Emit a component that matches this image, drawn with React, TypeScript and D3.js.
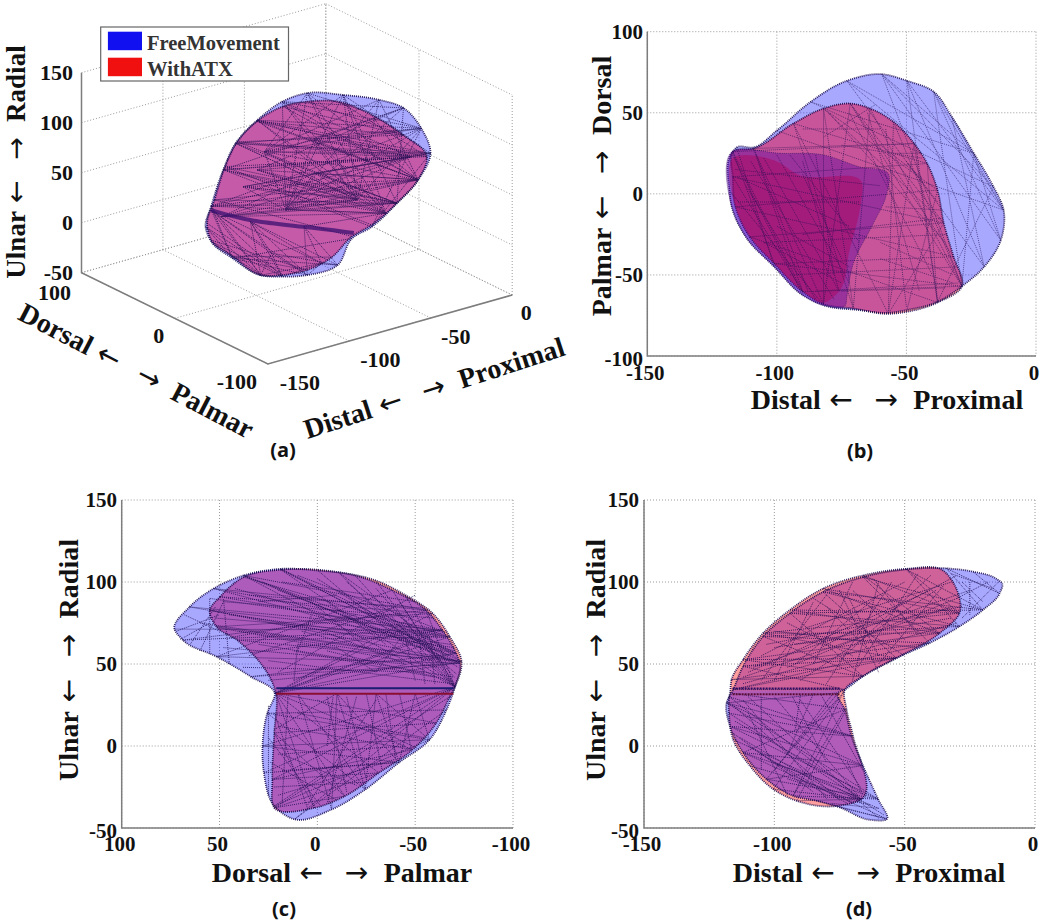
import * as d3 from "d3";

type Pt = [number, number];
type Chord = [number, number];
type Seg = [number, number, number, number];
type At = (p: Pt) => [number, number];

const SERIES = ["FreeMovement", "WithATX"];
const BLUE = "#2020ff";
const RED = "#ff1010";
const GRID = "#9a9a9a";
const AXIS = "#7d7d7d";
const DOT = "#1c0c50";
const SERIF = "'Liberation Serif', serif";

const X_TICKS = [-150, -100, -50, 0];
const Y_TICKS_B = [-100, -50, 0, 50, 100];
const Z_TICKS = [-50, 0, 50, 100, 150];
const P_TICKS = [100, 50, 0, -50, -100];
const P_TICKS_3D = [100, 0, -100];

// panel (a): points are [proximal-distal, ulnar-radial], on the plane palmar-dorsal = -20
const PLANE_Y = -20;
const blueA: Pt[] = [[-142.5,47.2],[-139,66.2],[-131.6,99.2],[-124,122.2],[-110.7,139.2],[-95.4,150.7],[-80,152.2],[-58,140.2],[-36,125.2],[-21,110.2],[-10,84.7],[-4.4,57.2],[-12,34.2],[-25,16.8],[-40.5,0.2],[-52.6,-5.8],[-61.4,-28.3],[-80,-29.8],[-95.4,-24.3],[-108.6,-16.8],[-126,8.2],[-139,30.9]];
const redA: Pt[] = [[-141.5,50.2],[-137,71.6],[-130.5,101.9],[-123,123.2],[-111,138.2],[-95,145.7],[-80,143.7],[-60,134.2],[-40.5,112.2],[-21,83.2],[-6.6,54.9],[-12,34.2],[-25,16.8],[-40.5,2.2],[-52.6,-3.8],[-65,-18.8],[-80,-24.8],[-95,-22.8],[-108.6,-16.6],[-126,10.2],[-139,32.2]];
const ridgeA: Pt[] = [[-139,62.2],[-115,39.8],[-82,19.7],[-51.5,-0.8]];
const innerA: Pt[] = [[-106.4,105.75],[-75.7,103.35],[-16.4,59.35],[-93.2,41.35],[-75.7,70.05],[-132.6,52.85],[-110.7,89.45],[-49.4,31.25],[-31.8,9.85],[-119.5,76.75],[-102,2.15],[-71.3,-22.05]];
const chordsBlueA: Chord[] = [[3,11],[3,10],[4,11],[4,10],[2,11],[5,10],[5,9],[6,10],[7,11],[8,12],[9,13],[10,14],[11,14],[1,12],[1,13],[2,13],[2,14],[3,13],[4,12],[5,12],[6,12],[7,13],[1,10],[2,9],[23,16],[23,17],[23,18],[23,19],[24,17],[0,19],[22,17],[22,18],[22,19],[22,20],[1,20],[26,27],[27,28],[26,28],[32,28],[35,28],[32,33],[32,34],[35,33],[35,34],[26,33],[27,33],[30,34],[30,28],[27,34],[29,33],[29,30],[29,27],[29,28],[29,34],[31,33],[31,29],[31,30],[35,29],[26,29],[24,34],[4,28],[5,28],[3,28],[2,33],[36,22],[36,23],[36,18],[36,19],[37,23],[37,22],[37,16],[11,35],[9,32],[8,26],[7,26],[6,26],[10,26],[10,27],[9,27],[32,12],[32,13],[35,12],[35,13],[26,12],[26,11],[27,11],[27,12],[30,11],[30,12],[30,13],[29,12],[29,13],[31,12],[31,13],[31,34],[31,28],[1,34],[1,33],[1,28],[2,34],[2,28],[3,34],[3,33],[4,33],[4,34],[5,33],[5,34],[6,33],[6,34],[7,33],[7,34],[8,33],[8,29],[9,29],[10,29],[10,33],[7,29],[6,29],[5,29],[36,16],[36,17],[37,17],[37,18],[37,19],[24,37],[24,16],[0,18],[0,20],[21,19],[1,19],[21,18],[20,17],[20,16],[20,15]];
const chordsRedA: Chord[] = [[2,10],[3,10],[3,9],[4,9],[4,10],[5,9],[6,9],[7,10],[8,11],[1,11],[1,12],[2,12],[3,12],[4,11],[5,11],[2,13],[1,14],[19,15],[19,16],[20,16],[0,17]];

// panel (b): [proximal-distal, palmar-dorsal]
const blueB: Pt[] = [[-117.4,25],[-115.5,28.6],[-109,28.6],[-100,39],[-87,56.7],[-73,69.7],[-59.5,73.8],[-49.8,69.7],[-39.5,63],[-32.5,47.5],[-24,25],[-16.4,4.3],[-12.5,-10],[-13.6,-28.6],[-20,-45],[-28.6,-57],[-38,-66.6],[-50,-71.7],[-57,-73.4],[-68,-71.7],[-82,-68.7],[-90,-62.5],[-101,-45],[-112,-26.5],[-117.4,-8],[-118.3,2]];
const redB: Pt[] = [[-117,26],[-109,28],[-93.6,43.4],[-82,52.6],[-71.7,55.7],[-64,52.6],[-55,44.4],[-47,31],[-42,18.7],[-38,2.3],[-35.6,-18],[-31.8,-38.8],[-28.6,-57],[-38,-67],[-50,-72.8],[-57,-74],[-70.5,-70.7],[-82,-68],[-90,-60.4],[-101,-43],[-110.5,-26.5],[-116,-8],[-117,10.5]];
const flapBlueB: Pt[] = [[-117.4,26],[-98.7,25],[-82,24],[-68,16.6],[-57,12.5],[-58,-2],[-62.7,-18],[-70.5,-43],[-73,-63.4],[-73.5,-68.6],[-82,-68.7],[-90,-62.5],[-101,-45],[-112,-26.5],[-117.4,-8]];
const flapRedB: Pt[] = [[-117,22],[-100,20],[-92,12],[-67,6],[-67.5,-5],[-72,-35],[-76,-60],[-82,-67],[-90,-60],[-101,-43],[-110.5,-26],[-116,-8]];
const chordsBlueB: Chord[] = [[6,13],[6,11],[7,14],[8,15],[5,10],[9,14],[10,15],[11,16],[3,12],[6,15],[7,12],[8,13],[9,12],[5,12],[4,11],[10,13],[6,10],[5,14],[7,16],[4,10],[8,12],[25,20],[0,21],[1,22]];
const chordsRedB: Chord[] = [[19,11],[20,10],[21,9],[22,8],[0,7],[1,7],[2,8],[3,9],[3,10],[4,10],[4,11],[4,12],[5,12],[6,12],[7,13],[8,13],[9,14],[10,15],[2,15],[3,16],[1,17],[0,18],[22,18],[0,19],[1,18],[3,17],[2,16],[18,12],[19,12],[20,13],[5,16],[6,15],[7,15],[4,17],[21,11],[22,10]];
const extraB: Seg[] = [[-80,50,-35,-30],[-72,50,-40,-50],[-65,50,-45,-60],[-58,40,-50,-70],[-90,40,-60,40],[-105,-30,-34,-25],[-95,-50,-30,-45],[-90,-25,-36,-15],[-85,-60,-30,-55],[-75,-60,-35,-58],[-60,-30,-32,-50],[-60,-40,-32,-55],[-58,-8,-36,-10],[-55,25,-44,25],[-75,30,-44,22],[-60,30,-44,10],[-50,20,-38,-5],[-82,35,-62,55],[-110,20,-78,-65],[-105,22,-76,-60],[-100,24,-72,-55],[-95,24,-68,-30],[-90,20,-76,-60],[-112,5,-85,-65],[-90,12,-75,-40],[-85,24,-78,-50],[-115,10,-72,-20],[-115,-5,-68,-5],[-116,15,-60,5],[-100,-20,-72,-45],[-105,-30,-75,-55],[-108,24,-88,-60]];

// panel (c): [dorsal-palmar, ulnar-radial]
const blueC: Pt[] = [[73,71.3],[65.3,84.8],[53,96],[37.7,104],[18.7,108],[-0.3,107],[-19.3,104],[-38.3,95],[-55.6,82.8],[-64,70.6],[-71,56.5],[-72.9,50.4],[-70.3,36],[-66,22],[-57.3,3.8],[-41.8,-10],[-24.5,-26.5],[-7.3,-38.7],[11.7,-44.7],[22,-36.6],[27.3,-16.4],[28,0],[25.6,20],[21.8,32.2],[34,42.3],[51.5,54.5],[68.7,64.6]];
const redC: Pt[] = [[55,82.8],[49.7,91],[37.7,103],[18.7,107.5],[-10.7,106],[-29.7,101],[-45,92],[-59,80.8],[-67.7,66.6],[-73.7,51.4],[-70.3,36],[-67.7,30],[-60.8,14],[-48.7,-2.2],[-31.4,-16.4],[-14,-30.6],[1.4,-37.7],[22,-37.7],[23,-20.4],[22,8],[21.2,32.2],[41,64.6],[51.5,72.7]];
const ridgeBlueC: Pt[] = [[21,35.2],[-69.5,35.2]];
const ridgeRedC: Pt[] = [[21,31.8],[-69.5,31.8]];
const fanC: Pt[] = [[10,32],[-10,32],[-30,32],[-50,32]];
const chordsBlueC: Chord[] = [[1,9],[1,10],[2,9],[2,10],[3,10],[3,11],[0,9],[26,8],[26,9],[25,7],[25,9],[24,10],[24,11],[23,10],[23,9],[23,8],[4,10],[5,12],[6,12],[7,12],[8,12],[4,11],[3,12],[25,11],[2,8],[3,8],[12,19],[13,18],[14,21],[22,14],[21,15],[20,15],[19,14],[12,18],[22,16],[12,20],[12,21],[22,13],[27,16],[27,17],[28,15],[28,16],[28,17],[29,15],[29,14],[29,16],[30,14],[30,15]];
const chordsRedC: Chord[] = [[0,8],[0,9],[1,7],[1,8],[2,8],[21,9],[21,8],[22,7],[22,9],[20,9],[20,8],[20,7],[3,9],[3,10],[4,9],[4,10],[5,10],[6,10],[20,12],[20,13],[20,14],[20,15],[20,16],[19,12],[18,13],[18,14],[17,14],[17,15],[19,16],[11,17],[10,18],[19,15]];
const extraC: Seg[] = [[48,88,-60,78],[45,80,-68,62],[40,70,-70,50],[52,78,-66,66],[35,92,-55,84],[30,62,-70,42],[25,52,-69,38],[18,100,-50,88],[10,104,-60,72],[45,66,-20,80],[30,88,-10,92],[-10,95,-66,60],[20,95,-68,55],[8,70,-40,55],[-3,70,-45,50],[12,58,-60,42],[-5,58,-68,40],[10,58,3,80],[12,40,10,62],[10,62,-10,60],[-10,60,-30,45],[-30,45,-42,65],[-42,65,-60,70],[-50,40,-45,66],[-55,38,-52,66],[-60,38,-58,66],[12,40,-8,50],[22,10,-10,32],[20,12,-48,-2],[20,-5,-45,0],[18,-15,-40,-10],[-5,30,-15,-28],[-15,30,-25,-20],[-25,32,-33,-14],[-35,32,-40,-8],[-42,32,-48,-2],[-5,0,-8,30],[22,-25,-25,-22],[18,-5,-20,-24],[60,75,-72,52],[55,90,-64,70],[50,72,-62,48],[42,96,-70,58],[28,100,-72,50],[25,75,-70,60],[35,55,-40,85],[20,45,-50,92],[15,35,-66,70],[0,102,-72,48],[-15,100,-71,44],[-30,96,-70,42],[-42,88,-70,38],[48,60,-45,50],[38,48,-55,45],[25,40,-62,50],[5,90,-25,60],[-5,88,-35,62],[20,-30,-40,-8],[24,-10,-10,-33],[25,5,-2,-37],[22,20,5,-38],[15,30,18,-35],[10,20,-55,5],[0,28,-52,-2],[-20,30,-5,-35],[-30,28,5,-36],[72,70,50,80],[70,65,55,75],[65,62,52,85],[60,58,48,88],[68,80,50,70],[55,56,55,90],[45,50,48,90],[25,-30,25,25]];

// panel (d): [proximal-distal, ulnar-radial]
const blueD: Pt[] = [[-118.3,26.3],[-115.8,34.4],[-112,48.6],[-104.3,66.8],[-94,81],[-81.3,94],[-66,103],[-49.4,107.7],[-34,108.3],[-23.8,106.3],[-14.9,102],[-12.6,99],[-13.6,93],[-20,83],[-29,72.9],[-40.4,62.8],[-53.2,53.6],[-66,42.5],[-73,34.4],[-75.5,32.4],[-73,22.3],[-70.4,6],[-66,-12],[-60.2,-32.4],[-56.8,-44.5],[-63.4,-45],[-75,-37.4],[-83.8,-33.4],[-92.8,-30.4],[-103,-20.2],[-112,-4],[-117,12]];
const redD: Pt[] = [[-117,32.4],[-116.4,40.5],[-112,52.6],[-104.3,68.8],[-94,83],[-81.3,96],[-66,104],[-49.4,108],[-36,107.7],[-29,81],[-36.6,68.8],[-53.2,53.6],[-66,42.5],[-73,34],[-72.3,22.3],[-69.8,6],[-66.6,-32.4],[-75,-36.4],[-91.5,-33.4],[-100.4,-26.3],[-109.4,-12],[-115.8,4],[-117.4,20],[-117.3,30]];
const ridgeBlueD: Pt[] = [[-116,35],[-75,35]];
const ridgeRedD: Pt[] = [[-116,31.5],[-75,31.5]];
const chordsBlueD: Chord[] = [[1,16],[1,15],[2,16],[2,15],[3,15],[3,14],[4,14],[4,13],[5,13],[5,14],[6,13],[7,13],[8,12],[8,13],[9,12],[7,14],[6,15],[5,16],[4,17],[3,17],[2,18],[1,18],[0,19],[0,21],[31,21],[31,22],[30,22],[30,23],[29,23],[28,23],[27,24],[26,24],[0,22],[0,23],[31,23],[30,24],[29,22],[20,28],[19,29],[20,30],[18,28]];
const chordsRedD: Chord[] = [[1,11],[2,11],[2,10],[3,10],[3,9],[4,9],[5,9],[6,9],[7,9],[4,10],[5,10],[6,10],[3,11],[2,12],[1,12],[23,15],[22,15],[22,16],[21,16],[20,16],[19,16],[18,16],[23,16],[0,14],[14,18],[13,19]];
const extraD: Seg[] = [[-110,45,-40,95],[-105,55,-50,100],[-112,42,-32,85],[-100,60,-32,78],[-95,48,-30,90],[-90,40,-38,95],[-80,38,-55,100],[-70,40,-60,100],[-100,70,-45,60],[-85,90,-50,55],[-75,95,-60,45],[-95,75,-70,55],[-65,60,-80,85],[-60,55,-72,92],[-93,30,-80,-10],[-85,32,-95,-5],[-78,31,-100,-15],[-75,30,-92,0],[-90,31,-92,10],[-110,30,-68,-32],[-100,30,-68,-30],[-115,15,-67,-28],[-113,5,-70,-35],[-105,-5,-72,-35],[-95,-20,-67,-34],[-72,-10,-66,-30],[-110,20,-95,-30],[-105,30,-105,-15],[-60,-38,-72,-30],[-112,38,-30,75],[-108,48,-25,95],[-103,62,-28,85],[-92,62,-35,72],[-88,72,-32,100],[-82,60,-30,104],[-75,52,-40,104],[-68,48,-45,105],[-60,50,-35,98],[-92,50,-60,92],[-85,50,-70,100],[-105,40,-80,92],[-100,40,-85,88],[-50,65,-70,95],[-45,68,-62,102],[-28,100,-20,88],[-32,105,-16,96],[-30,90,-18,100],[-28,78,-14,100],[-25,100,-25,80],[-116,25,-75,-33],[-112,28,-80,-32],[-116,8,-85,-28],[-110,0,-80,-30],[-100,-10,-70,-30],[-90,28,-67,-25],[-82,31,-66,-15],[-68,-32,-58,-42],[-70,-30,-60,-44],[-72,-33,-63,-36],[-78,-35,-60,-38]];

const font = { fontFamily: SERIF, fontWeight: 700, fill: "#111" } as const;

function hullPath(points: Pt[], at: At) {
  return d3.line<Pt>().x((d) => at(d)[0]).y((d) => at(d)[1]).curve(d3.curveCatmullRomClosed.alpha(1))(points) ?? "";
}

function Mesh({ points, chords, extra = [], at, opacity = 0.8 }: { points: Pt[]; chords: Chord[]; extra?: Seg[]; at: At; opacity?: number }) {
  const lines: [Pt, Pt][] = [
    ...chords.map(([a, b]) => [points[a], points[b]] as [Pt, Pt]),
    ...extra.map((s) => [[s[0], s[1]], [s[2], s[3]]] as [Pt, Pt]),
  ];
  return (
    <g stroke={DOT} strokeWidth={1} strokeDasharray="1 1" opacity={opacity}>
      {lines.map(([p, q], i) => (
        <line key={i} x1={at(p)[0]} y1={at(p)[1]} x2={at(q)[0]} y2={at(q)[1]} />
      ))}
    </g>
  );
}

// two hulls, the part that both cover painted in its own colour
function Hulls({ id, blue, red, overlap, at }: { id: string; blue: Pt[]; red: Pt[]; overlap: string; at: At }) {
  const b = hullPath(blue, at);
  const r = hullPath(red, at);
  const edge = { fill: "none", stroke: DOT, strokeWidth: 1.8, strokeDasharray: "1 1", strokeOpacity: 0.9 };
  return (
    <g>
      <clipPath id={id}>
        <path d={b} />
      </clipPath>
      <path d={b} fill={BLUE} fillOpacity={0.38} />
      <path d={r} fill={RED} fillOpacity={0.42} />
      <path d={r} fill={overlap} clipPath={`url(#${id})`} />
      <path d={b} {...edge} />
      <path d={r} {...edge} />
    </g>
  );
}

function ArrowLabel({ left, right, size = 28, ...rest }: any) {
  return (
    <text {...font} fontSize={size} textAnchor="middle" {...rest}>
      {left}
      <tspan dx={size * 0.3} fontFamily="'DejaVu Sans', sans-serif" fontWeight={400}>{"\u2190"}</tspan>
      <tspan dx={size * 0.78} fontFamily="'DejaVu Sans', sans-serif" fontWeight={400}>{"\u2192"}</tspan>
      <tspan dx={size * 0.55}>{right}</tspan>
    </text>
  );
}

function Tag({ x, y, children }: any) {
  return <text x={x} y={y} textAnchor="middle" fontFamily="'Open Sans', sans-serif" fontWeight={700} fontSize={20} fill="#111">{children}</text>;
}

function Frame({ sx, sy, xTicks, yTicks, xLabel, yLabel, tag, lx, ly, tagX, tagY, yLabelX, yLabelY, yTextX, xTextY }: any) {
  const [l, r] = sx.range();
  const [b, t] = sy.range();
  return (
    <g>
      <g stroke={GRID} strokeWidth={1} strokeDasharray="1 2">
        {xTicks.map((v: number) => <line key={v} x1={sx(v)} x2={sx(v)} y1={t} y2={b} />)}
        {yTicks.map((v: number) => <line key={v} x1={l} x2={r} y1={sy(v)} y2={sy(v)} />)}
      </g>
      <path d={`M${l},${t}V${b}H${r}`} fill="none" stroke={AXIS} strokeWidth={1.5} />
      {xTicks.map((v: number) => (
        <text key={v} {...font} fontSize={21} textAnchor="middle" x={sx(v) - 2} y={xTextY}>{v}</text>
      ))}
      {yTicks.map((v: number) => (
        <text key={v} {...font} fontSize={21} textAnchor="end" x={yTextX} y={sy(v) + (v === sy.domain()[0] ? 10 : 7)}>{v}</text>
      ))}
      <ArrowLabel left={xLabel[0]} right={xLabel[1]} x={lx} y={ly} />
      <ArrowLabel left={yLabel[0]} right={yLabel[1]} transform={`translate(${yLabelX},${yLabelY}) rotate(-90)`} />
      <Tag x={tagX} y={tagY}>{tag}</Tag>
    </g>
  );
}

function PanelB() {
  const sx = d3.scaleLinear().domain([-150, 0]).range([647.3, 1036]);
  const sy = d3.scaleLinear().domain([-100, 100]).range([356, 31.7]);
  const at: At = (p) => [sx(p[0]), sy(p[1])];
  return (
    <g>
      <Frame sx={sx} sy={sy} xTicks={X_TICKS} yTicks={Y_TICKS_B} xLabel={["Distal", "Proximal"]} yLabel={["Palmar", "Dorsal"]} tag="(b)" lx={887} ly={409} tagX={860} tagY={458} yLabelX={611} yLabelY={186} yTextX={643} xTextY={380} />
      <g filter="url(#soft)">
        <Hulls id="clipB" blue={blueB} red={redB} overlap="#c8559a" at={at} />
        <path d={hullPath(flapBlueB, at)} fill="#5a00a0" fillOpacity={0.42} stroke={DOT} strokeOpacity={0.5} strokeDasharray="1 1" />
        <path d={hullPath(flapRedB, at)} fill="#b00050" fillOpacity={0.42} />
        <Mesh points={blueB} chords={chordsBlueB} at={at} opacity={0.6} />
        <Mesh points={redB} chords={chordsRedB} extra={extraB} at={at} opacity={0.6} />
      </g>
    </g>
  );
}

function PanelC() {
  const sx = d3.scaleLinear().domain([100, -100]).range([121.7, 513]);
  const sy = d3.scaleLinear().domain([-50, 150]).range([828, 500]);
  const at: At = (p) => [sx(p[0]), sy(p[1])];
  return (
    <g>
      <Frame sx={sx} sy={sy} xTicks={P_TICKS} yTicks={Z_TICKS} xLabel={["Dorsal", "Palmar"]} yLabel={["Ulnar", "Radial"]} tag="(c)" lx={342} ly={882} tagX={284} tagY={916} yLabelX={78} yLabelY={660} yTextX={117} xTextY={851} />
      <g filter="url(#soft)">
        <Hulls id="clipC" blue={blueC} red={redC} overlap="#ad5cbc" at={at} />
        <Mesh points={blueC.concat(fanC)} chords={chordsBlueC} at={at} />
        <Mesh points={redC} chords={chordsRedC} extra={extraC} at={at} />
        <line x1={at(ridgeBlueC[0])[0]} y1={at(ridgeBlueC[0])[1]} x2={at(ridgeBlueC[1])[0]} y2={at(ridgeBlueC[1])[1]} stroke="#1a1a70" strokeWidth={2} />
        <line x1={at(ridgeRedC[0])[0]} y1={at(ridgeRedC[0])[1]} x2={at(ridgeRedC[1])[0]} y2={at(ridgeRedC[1])[1]} stroke="#8a1030" strokeWidth={2} />
      </g>
    </g>
  );
}

function PanelD() {
  const sx = d3.scaleLinear().domain([-150, 0]).range([644, 1035]);
  const sy = d3.scaleLinear().domain([-50, 150]).range([828, 500]);
  const at: At = (p) => [sx(p[0]), sy(p[1])];
  return (
    <g>
      <Frame sx={sx} sy={sy} xTicks={X_TICKS} yTicks={Z_TICKS} xLabel={["Distal", "Proximal"]} yLabel={["Ulnar", "Radial"]} tag="(d)" lx={869} ly={882} tagX={859} tagY={916} yLabelX={605} yLabelY={660} yTextX={639} xTextY={851} />
      <g filter="url(#soft)">
        <linearGradient id="lobesD" gradientUnits="userSpaceOnUse" x1={0} x2={0} y1={sy(108)} y2={sy(-45)}>
          <stop offset="0.48" stopColor="#cf6298" />
          <stop offset="0.49" stopColor="#b05cb8" />
        </linearGradient>
        <Hulls id="clipD" blue={blueD} red={redD} overlap="url(#lobesD)" at={at} />
        <Mesh points={blueD} chords={chordsBlueD} at={at} />
        <Mesh points={redD} chords={chordsRedD} extra={extraD} at={at} />
        <line x1={at(ridgeBlueD[0])[0]} y1={at(ridgeBlueD[0])[1]} x2={at(ridgeBlueD[1])[0]} y2={at(ridgeBlueD[1])[1]} stroke="#2a1060" strokeWidth={2} strokeDasharray="2 1" />
        <line x1={at(ridgeRedD[0])[0]} y1={at(ridgeRedD[0])[1]} x2={at(ridgeRedD[1])[0]} y2={at(ridgeRedD[1])[1]} stroke="#5a1030" strokeWidth={2} strokeDasharray="2 1" />
      </g>
    </g>
  );
}

// linear oblique projection of the 3-D box on to the page
const xToPageX = d3.scaleLinear().domain([-150, 0]).range([0, 244.3]);
const yToPageX = d3.scaleLinear().domain([-100, 100]).range([0, -186.4]);
const xToPageY = d3.scaleLinear().domain([-150, 0]).range([0, -69]);
const yToPageY = d3.scaleLinear().domain([-100, 100]).range([0, -91.3]);
const zToPageY = d3.scaleLinear().domain([-50, 150]).range([0, -200]);
const px = (x: number, y: number) => 267.9 + xToPageX(x) + yToPageX(y);
const py = (x: number, y: number, z: number) => 364 + xToPageY(x) + yToPageY(y) + zToPageY(z);

const xLabelOffset = [[32, 19], [31, 19], [25, 19], [14, 18]];
const yLabelOffset = [[-27, 20], [-16, 18], [-31, 18]];

function PanelA() {
  const at: At = (p) => [px(p[0], PLANE_Y), py(p[0], PLANE_Y, p[1])];
  const grid3: [number, number, number, number, number, number][] = [];
  X_TICKS.forEach((x) => {
    grid3.push([x, -100, -50, x, 100, -50]);
    grid3.push([x, 100, -50, x, 100, 150]);
  });
  P_TICKS_3D.forEach((y) => {
    grid3.push([-150, y, -50, 0, y, -50]);
    grid3.push([0, y, -50, 0, y, 150]);
  });
  Z_TICKS.forEach((z) => {
    grid3.push([-150, 100, z, 0, 100, z]);
    grid3.push([0, 100, z, 0, -100, z]);
  });
  const ridge = d3.line<Pt>().x((d) => at(d)[0]).y((d) => at(d)[1]).curve(d3.curveBasis);
  return (
    <g>
      <g stroke={GRID} strokeWidth={1} strokeDasharray="1 2">
        {grid3.map((g, i) => (
          <line key={i} x1={px(g[0], g[1])} y1={py(g[0], g[1], g[2])} x2={px(g[3], g[4])} y2={py(g[3], g[4], g[5])} />
        ))}
      </g>
      <path
        d={`M${px(-150, 100)},${py(-150, 100, 150)}V${py(-150, 100, -50)}L${px(-150, -100)},${py(-150, -100, -50)}L${px(0, -100)},${py(0, -100, -50)}`}
        fill="none"
        stroke={AXIS}
        strokeWidth={1.5}
      />
      {Z_TICKS.map((z) => (
        <text key={z} {...font} fontSize={22} textAnchor="end" x={73} y={py(-150, 100, z) + 7}>{z}</text>
      ))}
      {P_TICKS_3D.map((y, i) => (
        <text key={y} {...font} fontSize={22} textAnchor="middle" x={px(-150, y) + yLabelOffset[i][0]} y={py(-150, y, -50) + yLabelOffset[i][1] + 7}>{y}</text>
      ))}
      {X_TICKS.map((x, i) => (
        <text key={x} {...font} fontSize={22} textAnchor="middle" x={px(x, -100) + xLabelOffset[i][0]} y={py(x, -100, -50) + xLabelOffset[i][1] + 7}>{x}</text>
      ))}
      <ArrowLabel left="Ulnar" right="Radial" size={27} transform="translate(25,162) rotate(-90)" />
      <ArrowLabel left="Dorsal" right="Palmar" size={28} transform="translate(132,379) rotate(27.5)" />
      <ArrowLabel left="Distal" right="Proximal" size={28} transform="translate(437,397) rotate(-18)" />
      <Tag x={283} y={457}>(a)</Tag>

      <g filter="url(#soft)">
        <Hulls id="clipA" blue={blueA} red={redA} overlap="#c45aa8" at={at} />
        <Mesh points={blueA.concat(ridgeA, innerA)} chords={chordsBlueA} at={at} />
        <Mesh points={redA} chords={chordsRedA} at={at} />
        <path d={ridge(ridgeA) ?? ""} fill="none" stroke="#3a1070" strokeWidth={4} strokeOpacity={0.75} />
      </g>

      <rect x={100.7} y={27} width={187.8} height={54} fill="#fff" stroke="#666" strokeWidth={1.2} />
      <rect x={107.9} y={31.7} width={34.1} height={18.5} fill="#1010f0" />
      <rect x={107.9} y={57.7} width={34.1} height={18.5} fill="#f01010" />
      <text x={147} y={50} fontFamily={SERIF} fontWeight={700} fontSize={20.5} fill="#333">{SERIES[0]}</text>
      <text x={147} y={75.5} fontFamily={SERIF} fontWeight={700} fontSize={20.5} fill="#333">{SERIES[1]}</text>
    </g>
  );
}

export default function App() {
  return (
    <svg width={1050} height={924} viewBox="0 0 1050 924" style={{ position: "absolute", left: 0, top: 0, background: "#fff" }}>
      <defs>
        <filter id="soft" x="-5%" y="-5%" width="110%" height="110%">
          <feGaussianBlur stdDeviation={0.4} />
        </filter>
      </defs>
      <PanelA />
      <PanelB />
      <PanelC />
      <PanelD />
    </svg>
  );
}
